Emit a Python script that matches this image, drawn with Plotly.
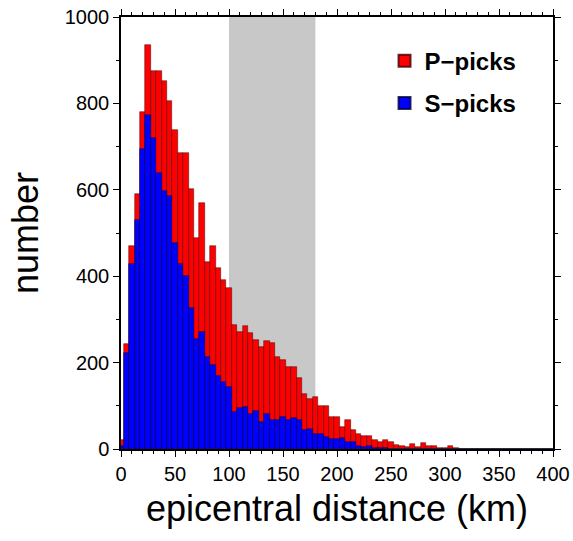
import plotly.graph_objects as go

# bin centres (km), bin width 5 km
distance = list(range(0, 405, 5))

p_picks = [22, 244, 469, 591, 779, 935, 875, 876, 851, 805,
           739, 685, 685, 601, 488, 569, 432, 469, 419, 392,
           373, 286, 270, 284, 268, 253, 236, 249, 245, 213,
           205, 189, 189, 165, 128, 116, 120, 100, 99, 75,
           73, 50, 68, 45, 35, 30, 30, 20, 17, 22,
           17, 10, 7, 4, 11, 4, 13, 8, 8, 3,
           3, 8, 2, 0, 0, 0, 0, 0, 0, 0,
           0, 0, 0, 0, 0, 0, 0, 0, 0, 0, 0]

s_picks = [8, 222, 429, 530, 694, 773, 719, 639, 597, 585,
           477, 429, 400, 326, 255, 270, 212, 194, 170, 155,
           143, 85, 96, 97, 80, 89, 62, 80, 66, 68,
           74, 67, 72, 68, 45, 47, 35, 35, 28, 24,
           24, 25, 17, 17, 7, 4, 7, 3, 3, 2,
           1, 0, 0, 0, 0, 0, 0, 0, 0, 0,
           0, 0, 0, 0, 0, 0, 0, 0, 0, 0,
           0, 0, 0, 0, 0, 0, 0, 0, 0, 0, 0]

shade_range = [100, 180]

FONT = "Liberation Sans, Arial, Helvetica, sans-serif"

fig = go.Figure()
fig.add_trace(go.Bar(x=distance, y=p_picks, width=5, name="P\u2212picks",
                     marker=dict(color="#ff0000", line=dict(color="rgba(60,0,0,0.8)", width=0.6)),
                     legendgroup="p"))
fig.add_trace(go.Bar(x=distance, y=s_picks, width=5, name="S\u2212picks",
                     marker=dict(color="#0000ff", line=dict(color="rgba(0,0,60,0.8)", width=0.6)),
                     legendgroup="s"))

fig.add_shape(type="rect", xref="x", yref="paper", x0=shade_range[0], x1=shade_range[1],
              y0=0, y1=1, fillcolor="#c8c8c8", line=dict(width=0), layer="below")

axis_common = dict(
    showline=True, linecolor="black", linewidth=1.5, mirror="ticks",
    ticks="outside", ticklen=6, tickwidth=1, tickcolor="black",
    showgrid=False, zeroline=False, automargin=False, ticklabeloverflow="allow",
    tickfont=dict(family=FONT, size=20, color="black"),
)

fig.update_xaxes(range=[0, 400], tickvals=list(range(0, 401, 50)),
                 minor=dict(dtick=10, ticklen=3, ticks="outside", tickcolor="black", showgrid=False),
                 title=dict(text="epicentral distance (km)", font=dict(family=FONT, size=36, color="black"),
                            standoff=12),
                 **axis_common)
fig.update_yaxes(range=[0, 1000], tickvals=list(range(0, 1001, 200)),
                 minor=dict(dtick=100, ticklen=3, ticks="outside", tickcolor="black", showgrid=False),
                 title=dict(text="number", font=dict(family=FONT, size=36, color="black"),
                            standoff=15),
                 **axis_common)

fig.update_layout(
    width=573, height=541,
    margin=dict(l=121, r=20, t=17, b=92),
    barmode="overlay", bargap=0,
    plot_bgcolor="white", paper_bgcolor="white",
    font=dict(family=FONT, color="black"),
    legend=dict(x=0.61, y=0.95, xanchor="left", yanchor="top",
                bgcolor="rgba(0,0,0,0)", traceorder="grouped", tracegroupgap=8,
                font=dict(family=FONT, size=24, color="black", weight="bold"),
                itemsizing="constant"),
    showlegend=True,
)

fig.write_html("out.html", config={"displayModeBar": False},
               post_script="document.body.style.margin='0';document.body.style.overflow='hidden';")
